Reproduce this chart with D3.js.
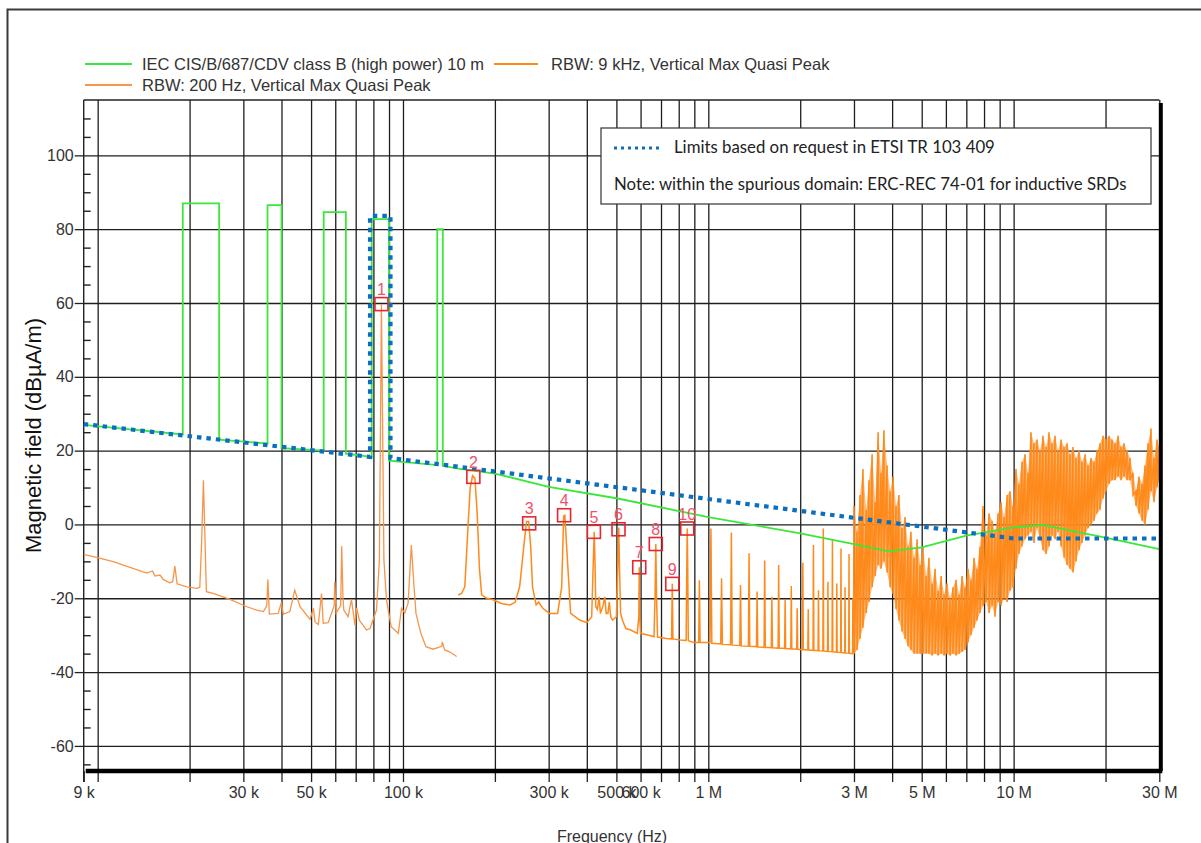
<!DOCTYPE html>
<html><head><meta charset="utf-8">
<script src="https://cdn.jsdelivr.net/npm/d3@7"></script>
<style>
html,body{margin:0;padding:0;background:#fff;overflow:hidden;}
svg{display:block;}
</style></head><body>
<svg id="chart" width="1201" height="843"></svg>
<script>
// ---------------- DATA ----------------
// IEC CIS/B/687/CDV class B limit (Hz, dBµA/m)
const iecLimit = [
  [9e3,27.0],[19e3,24.4],[19e3,87.0],[25e3,87.0],[25e3,23.0],[36e3,21.9],[36e3,86.5],[40e3,86.5],[40e3,20.7],
  [55e3,20.0],[55e3,84.6],[65e3,84.6],[65e3,19.2],[79e3,18.3],[79e3,82.7],[90e3,82.7],[90e3,17.3],
  [129.5e3,16.1],[129.5e3,80.0],[135e3,80.0],[135e3,15.9],[150e3,15.2],[200e3,13.8],[300e3,10.2],[500e3,7.1],
  [1e6,2.0],[2e6,-2.4],[3e6,-5.3],[3.9e6,-7.3],[5e6,-6.2],[7e6,-3.0],[10e6,-0.8],[12.5e6,-0.2],[20e6,-3.6],[30e6,-6.7]
];
// ETSI TR 103 409 request limit (Hz, dBµA/m)
const etsiLimit = [
  [9e3,27.2],[78e3,18.3],[78e3,83.6],[91e3,83.6],[91e3,18.0],[1e6,6.9],[3e6,1.8],[10e6,-3.8],[30e6,-3.8]
];
// RBW 200 Hz trace (kHz, dB)
const rbw200 = [
  [9,-8.1],[9.9,-8.9],[11.25,-10.1],[12.76,-11.6],[14.47,-13.2],[15.13,-12.6],[15.4,-14],[16,-13.7],[16.4,-14.9],
  [17.2,-15.8],[17.6,-15.5],[17.9,-11.3],[18.2,-16.1],[19.6,-16.9],[21.1,-17.3],[21.6,-17],[21.9,-5],[22.2,12],
  [22.4,0],[22.7,-18.2],[23.9,-18.7],[27.1,-20.3],[30.8,-22.3],[33.2,-23.2],[34.9,-23.6],[35.8,-22],[36.1,-14.9],
  [36.5,-24.3],[39,-24.1],[39.9,-21.4],[40.6,-24.3],[42.6,-23.6],[44.2,-17.8],[46,-22.3],[49.6,-25.7],[50.9,-22.7],
  [51.5,-26.4],[52.8,-27.1],[54.1,-18.7],[54.8,-26.8],[56.9,-26.6],[59.5,-22],[59.8,-15.5],[60.4,-24],[62.5,-22],
  [63,-5.9],[63.6,-20],[64,-23.2],[66.1,-25],[67.8,-20.3],[69.6,-27.3],[70.5,-22.6],[72,-26],[76,-28.6],[78,-28.2],
  [81.9,-23.2],[83.7,-9.6],[85,59.7],[86.6,-9.6],[88.3,-20.5],[91.5,-27.7],[96.5,-29.5],[98.9,-22.7],[101.3,-24],
  [103.9,-21.4],[106.5,-5.6],[108.5,-16],[110.3,-24.1],[114.4,-29.5],[118.9,-33.1],[125.4,-33.8],[134,-33],
  [134.5,-31.8],[136.9,-34],[142,-34.5],[149.9,-35.8]
];
// RBW 9 kHz trace, 150 kHz - 1 MHz (kHz, dB)
const rbw9kLow = [
  [151.7,-19.1],[155.5,-18.7],[159.4,-16.9],[163.5,0.3],[166,10],[169,13.2],[172,12.5],[175,3],[178,-12],[181,-19.1],
  [188,-20],[197.5,-20.4],[210,-21.4],[224,-21.8],[233,-21.1],[241,-16.9],[250,-4.2],[254,0.8],[258,0.8],[262,-6],
  [265.6,-17],[273,-21.8],[278,-21],[287,-22.7],[302,-24.1],[321,-24.1],[331,-16.9],[336,2.3],[339,2.5],[343,-5],
  [354,-24.1],[379,-25.9],[400,-26.6],[415,-25],[420,-10],[423,-2],[426,-12],[428,-22.3],[433,-23],[439,-19.6],
  [443,-24.1],[452,-22],[458,-19.6],[463,-24.1],[469,-24.1],[474,-21],[479,-25],[486,-25.9],[500,-25],[506,-10],
  [509,-0.8],[512,-12],[516,-24],[523,-25.9],[537,-28.2],[557,-28.6],[585,-29.5],[592,-25],[594,-11.6],[596,-25],
  [600,-29.5],[638,-30],[664,-30.4],[669,-20],[673,-5.3],[677,-20],[682,-30.5],[729,-30.9],[758,-31],[762,-16.1],
  [766,-31],[810,-31.3],[846,-31.4],[851,-8],[853,-1.1],[856,-10],[860,-31.5],[897,-32],[928,-32]
];
// RBW 9 kHz trace, harmonic comb 0.93 - 3 MHz (MHz, dB)
const rbw9kComb = [
  [0.93,-32],[0.935,-15.1],[0.94,-32],[1.013,-32],[1.02,-1.1],[1.027,-32.2],[1.098,-32.4],[1.105,-14.6],[1.112,-32.5],
  [1.183,-32.6],[1.19,-2.2],[1.197,-32.7],[1.268,-32.8],[1.275,-16.4],[1.282,-32.9],[1.353,-33],[1.36,-7.8],[1.367,-33],
  [1.438,-33.1],[1.445,-18.2],[1.452,-33.2],[1.523,-33.3],[1.53,-9.8],[1.537,-33.3],[1.608,-33.4],[1.615,-19.6],[1.622,-33.4],
  [1.693,-33.5],[1.70,-11],[1.707,-33.5],[1.778,-33.6],[1.785,-20.5],[1.792,-33.6],[1.863,-33.7],[1.87,-16.7],[1.877,-33.7],
  [1.948,-33.8],[1.955,-22.7],[1.962,-33.8],[2.033,-33.9],[2.04,-10.4],[2.047,-33.9],[2.118,-34],[2.125,-23],[2.132,-34],
  [2.203,-34.1],[2.21,-5.6],[2.217,-34.1],[2.288,-34.2],[2.295,-17.8],[2.302,-34.2],[2.373,-34.3],[2.38,-1.1],[2.387,-34.3],
  [2.458,-34.4],[2.465,-15.5],[2.472,-34.4],[2.543,-34.5],[2.55,-4.2],[2.557,-34.5],[2.628,-34.6],[2.635,-16],[2.642,-34.6],
  [2.713,-34.7],[2.72,-6.5],[2.727,-34.7],[2.798,-34.8],[2.805,-17],[2.812,-34.8],[2.883,-34.9],[2.89,-8],[2.897,-34.9],
  [2.968,-35],[2.975,-20],[2.99,-35]
];
// RBW 9 kHz trace, 3 - 30 MHz noise, per sweep step: [MHz, high dB, low dB]
const rbw9kNoise = [
  [3.00,5,-35],[3.07,-2,-34],[3.14,8,-31],[3.21,15,-28],[3.29,4,-24],[3.36,12,-21],[3.44,19,-17],[3.52,6,-14],
  [3.60,25,-11],[3.68,14,-12],[3.76,25.5,-10],[3.85,16,-13],[3.94,9,-17],[4.03,13,-19],[4.12,5,-23],[4.21,8,-26],
  [4.31,-1,-29],[4.41,2,-31],[4.51,-6,-33],[4.61,-2,-34],[4.72,-9,-35],[4.83,-4,-35],[4.94,-11,-35],[5.05,-6,-35],
  [5.17,-14,-35],[5.28,-9,-35],[5.41,-16,-35.5],[5.53,-12,-35],[5.66,-18,-35.5],[5.79,-14,-35],[5.92,-19,-35.5],
  [6.05,-16,-35],[6.19,-20,-35.5],[6.33,-17,-35],[6.48,-15,-35.5],[6.63,-19,-35],[6.78,-14,-34.5],[6.93,-17,-34],
  [7.09,-12,-32],[7.25,-15,-30],[7.42,-9,-28],[7.59,-12,-26],[7.76,-6,-24],[7.94,5,-22],[8.12,-3,-21],[8.31,3,-24],
  [8.50,1,-22],[8.69,-2,-25],[8.89,3,-21],[9.10,6,-22],[9.30,2,-20],[9.52,8,-21],[9.73,9,-18],[9.95,5,-17],
  [10.18,15,-12],[10.41,11,-8],[10.65,17,-6],[10.90,19,-4],[11.15,14,-3],[11.40,25,-2],[11.66,22,-5],[11.93,23,-1],
  [12.20,20,-4],[12.48,24,-7],[12.77,21,-8],[13.06,25,-6],[13.36,22,-3],[13.67,24,-4],[13.98,20,-2],[14.30,23,-6],
  [14.63,21,-9],[14.96,22,-11],[15.30,19,-12],[15.65,21,-13],[16.01,18,-10],[16.38,20,-7],[16.75,17,-5],[17.14,19,-3],
  [17.53,16,-1],[17.93,18,0],[18.34,17,1],[18.76,20,3],[19.19,22,4],[19.63,24,7],[20.08,23,9],[20.54,24,11],
  [21.01,23,12],[21.49,22,12],[21.98,24,13],[22.48,21,12],[23.00,22,13],[23.52,20,12],[24.06,18,12],[24.61,14,8],
  [25.17,9,5],[25.75,13,3],[26.34,11,1],[26.94,16,0],[27.56,22,4],[28.18,26,9],[28.83,18,6],[29.49,23,10],[30.0,21,12]
];
// Markers (Hz, dB)
const markerIds = [1,2,3,4,5,6,7,8,9,10];
const markerFreqs = [85e3,170e3,259e3,337e3,422e3,508e3,594e3,673e3,762e3,853e3];
const markerLevels = [59.7,12.9,0.3,2.5,-2.0,-1.3,-11.6,-5.3,-16.1,-1.1];

// Axis ticks
const xTickVals = [9e3,3e4,5e4,1e5,3e5,5e5,6e5,1e6,3e6,5e6,1e7,3e7];
const xTickLabels = ["9 k","30 k","50 k","100 k","300 k","500 k","600 k","1 M","3 M","5 M","10 M","30 M"];
const gridMantissas = [1,2,3,4,5,6,7,8,9];
const gridDecades = [1e4,1e5,1e6,1e7];
const yMajor = [-60,-40,-20,0,20,40,60,80,100];
const yMinor = [-65,-55,-50,-45,-35,-30,-25,-15,-10,-5,5,10,15,25,30,35,45,50,55,65,70,75,85,90,95,105,110];

// ---------------- CHART ----------------
const svg = d3.select("#chart");
const FONT = "'Liberation Sans', Arial, sans-serif";
const yMin = -66.8, yMax = 115;
const x = d3.scaleLog().domain([9e3, 30e6]).range([83.7, 1159.3]);
const y = d3.scaleLinear().domain([yMin, yMax]).range([771, 100]);
const gridFreqs = [];
gridDecades.forEach(d => gridMantissas.forEach(m => { if (m*d <= 3e7) gridFreqs.push(m*d); }));
const labelMap = new Map(xTickVals.map((v,i)=>[v, xTickLabels[i]]));

// outer frame
svg.append("rect").attr("x",7.5).attr("y",9.5).attr("width",1300).attr("height",900)
  .attr("fill","none").attr("stroke","#3a3a3a").attr("stroke-width",2);

const plotL = x(9e3), plotR = x(3e7), plotT = y(yMax), plotB = y(yMin);

// vertical grid
svg.append("g").attr("transform",`translate(0,${plotB})`)
  .call(d3.axisBottom(x).tickValues(gridFreqs).tickSize(-(plotB-plotT)).tickFormat(""))
  .call(g=>g.select(".domain").remove())
  .selectAll("line").attr("stroke","#1e1e1e").attr("stroke-width",1.3);
// horizontal grid
svg.append("g").attr("transform",`translate(${plotL},0)`)
  .call(d3.axisLeft(y).tickValues(yMajor).tickSize(-(plotR-plotL)).tickFormat(""))
  .call(g=>g.select(".domain").remove())
  .selectAll("line").attr("stroke","#1e1e1e").attr("stroke-width",1.3);
// top border
svg.append("line").attr("x1",plotL).attr("x2",plotR).attr("y1",plotT).attr("y2",plotT)
  .attr("stroke","#222").attr("stroke-width",1.3);
// y axis line
svg.append("line").attr("x1",plotL).attr("x2",plotL).attr("y1",plotT).attr("y2",plotB+11)
  .attr("stroke","#222").attr("stroke-width",1.4);

// x ticks + labels
const xAx = svg.append("g").attr("transform",`translate(0,${plotB})`)
  .call(d3.axisBottom(x).tickValues([9e3].concat(gridFreqs)).tickSize(11).tickPadding(5)
    .tickFormat(d => labelMap.get(d) || ""));
xAx.select(".domain").remove();
xAx.selectAll("line").attr("stroke","#222").attr("stroke-width",1.3);
xAx.selectAll("text").attr("font-family",FONT).attr("font-size",16).attr("fill","#333");

// y ticks + labels (hyphen minus as in the reference)
const yAx = svg.append("g").attr("transform",`translate(${plotL},0)`)
  .call(d3.axisLeft(y).tickValues(yMajor).tickSize(9).tickPadding(1).tickFormat(d => String(d)));
yAx.select(".domain").remove();
yAx.selectAll("line").attr("stroke","#222").attr("stroke-width",1.3);
yAx.selectAll("text").attr("font-family",FONT).attr("font-size",16).attr("fill","#333");
const yMi = svg.append("g").attr("transform",`translate(${plotL},0)`)
  .call(d3.axisRight(y).tickValues(yMinor).tickSize(7).tickFormat(""));
yMi.select(".domain").remove();
yMi.selectAll("line").attr("stroke","#222").attr("stroke-width",1.4);

// axis titles
svg.append("text").attr("transform",`translate(41,${(plotT+plotB)/2}) rotate(-90)`)
  .attr("text-anchor","middle").attr("font-family",FONT).attr("font-size",22).attr("fill","#111")
  .text("Magnetic field (dBµA/m)");
svg.append("text").attr("x",612).attr("y",842).attr("text-anchor","middle")
  .attr("font-family",FONT).attr("font-size",16).attr("fill","#333").text("Frequency (Hz)");

// traces
const ORANGE = "#ff8a1c", ORANGE2 = "#f7954a", GREEN = "#3ae83a", BLUE = "#0a6fc0";
const line = d3.line().x(d=>x(d[0])).y(d=>y(d[1]));
svg.append("clipPath").attr("id","pc").append("rect")
  .attr("x",plotL).attr("y",plotT).attr("width",plotR-plotL).attr("height",plotB-plotT);
const traces = svg.append("g").attr("clip-path","url(#pc)");

traces.append("path").datum(rbw200.map(d=>[d[0]*1e3,d[1]]))
  .attr("d",line).attr("fill","none").attr("stroke",ORANGE2).attr("stroke-width",1.3);
traces.append("path").datum(rbw9kLow.map(d=>[d[0]*1e3,d[1]]).concat(rbw9kComb.map(d=>[d[0]*1e6,d[1]])))
  .attr("d",line).attr("fill","none").attr("stroke",ORANGE).attr("stroke-width",1.5);
// dense noise band: envelope area plus the sweep zig-zag
const noiseArea = d3.area().x(d=>x(d[0]*1e6)).y0(d=>y(d[2])).y1(d=>y(d[1]));
traces.append("path").datum(rbw9kNoise).attr("d",noiseArea)
  .attr("fill",ORANGE).attr("fill-opacity",0.6).attr("stroke","none");
const noisePts = [];
rbw9kNoise.forEach(d => { noisePts.push([d[0]*1e6,d[1]]); noisePts.push([d[0]*1e6,d[2]]); });
traces.append("path").datum([[2.99e6,-35]].concat(noisePts))
  .attr("d",line).attr("fill","none").attr("stroke",ORANGE).attr("stroke-width",1.6);

traces.append("path").datum(iecLimit).attr("d",line).attr("fill","none")
  .attr("stroke",GREEN).attr("stroke-width",1.8);
traces.append("path").datum(etsiLimit).attr("d",line).attr("fill","none")
  .attr("stroke",BLUE).attr("stroke-width",4.2).attr("stroke-dasharray","4.5 5");

// markers
const mk = svg.append("g");
markerIds.forEach((id,i)=>{
  const cx = x(markerFreqs[i]), cy = y(markerLevels[i]);
  mk.append("rect").attr("x",cx-6.5).attr("y",cy-6.5).attr("width",13).attr("height",13)
    .attr("fill","none").attr("stroke","#e6262e").attr("stroke-width",1.6);
  mk.append("text").attr("x",cx).attr("y",cy-9).attr("text-anchor","middle")
    .attr("font-family",FONT).attr("font-size",16).attr("fill","#f0506a").text(id);
});

// thick bottom & right borders
svg.append("line").attr("x1",plotL+2).attr("x2",plotR+3).attr("y1",plotB).attr("y2",plotB)
  .attr("stroke","#000").attr("stroke-width",4.5);
svg.append("line").attr("x1",plotR+1.5).attr("x2",plotR+1.5).attr("y1",plotT+3).attr("y2",plotB)
  .attr("stroke","#000").attr("stroke-width",4);

// legend (top)
const lg = svg.append("g").attr("font-family",FONT).attr("font-size",16.5).attr("fill","#333");
const legendRows = [
  {x1:85,x2:132,y:64,color:GREEN,tx:142,label:"IEC CIS/B/687/CDV class B (high power) 10 m"},
  {x1:494,x2:538,y:64,color:ORANGE,tx:551,label:"RBW: 9 kHz, Vertical Max Quasi Peak"},
  {x1:85,x2:132,y:85,color:ORANGE2,tx:142,label:"RBW: 200 Hz, Vertical Max Quasi Peak"}
];
legendRows.forEach(r=>{
  lg.append("line").attr("x1",r.x1).attr("x2",r.x2).attr("y1",r.y).attr("y2",r.y)
    .attr("stroke",r.color).attr("stroke-width",2);
  lg.append("text").attr("x",r.tx).attr("y",r.y+6).text(r.label);
});

// note box
const nb = svg.append("g");
nb.append("rect").attr("x",601).attr("y",128).attr("width",550).attr("height",76)
  .attr("fill","#fff").attr("stroke","#333").attr("stroke-width",1.2);
nb.append("line").attr("x1",614).attr("x2",662).attr("y1",148).attr("y2",148)
  .attr("stroke",BLUE).attr("stroke-width",3).attr("stroke-dasharray","3 4");
nb.append("text").attr("x",674).attr("y",153).attr("font-family","Lato, 'Open Sans', sans-serif")
  .attr("font-size",16.8).attr("fill","#222").text("Limits based on request in ETSI TR 103 409");
nb.append("text").attr("x",614).attr("y",190).attr("font-family","Lato, 'Open Sans', sans-serif")
  .attr("font-size",16.8).attr("fill","#222").text("Note: within the spurious domain: ERC-REC 74-01 for inductive SRDs");
</script>
</body></html>
